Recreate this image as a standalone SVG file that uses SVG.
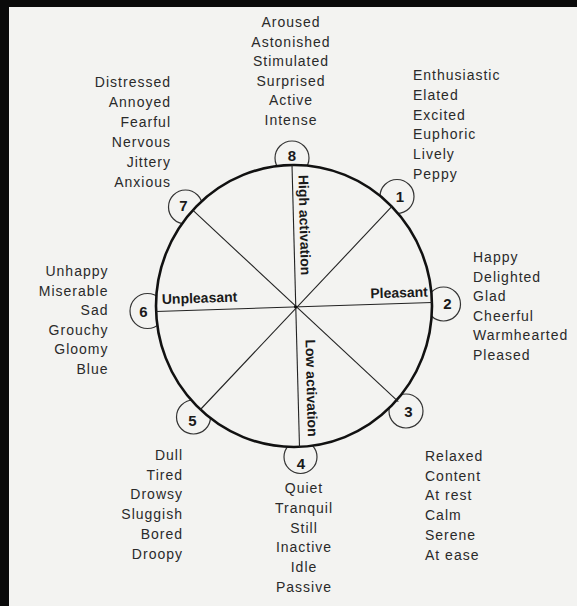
<svg xmlns="http://www.w3.org/2000/svg" width="577" height="606" viewBox="0 0 577 606">
<defs>
<style>
.bg{fill:#f3f3f1}
.w{font-family:"Liberation Sans",Arial,sans-serif;font-size:14px;fill:#2a2a2a;letter-spacing:1px}
.e{text-anchor:end}
.m{text-anchor:middle}
.num{font-family:"Liberation Sans",Arial,sans-serif;font-size:15px;font-weight:bold;fill:#1a1a1a;text-anchor:middle}
.lab{font-family:"Liberation Sans",Arial,sans-serif;font-size:14px;font-weight:bold;fill:#1a1a1a}
.sc{fill:#f3f3f1;stroke:#333;stroke-width:1.2}
.sp{stroke:#222;stroke-width:1.1;fill:none}
</style>
</defs>
<rect class="bg" x="0" y="0" width="577" height="606"/>
<rect x="0" y="0" width="577" height="7" fill="#0a0a0a"/>
<rect x="0" y="0" width="9" height="606" fill="#0a0a0a"/>

<g id="node8">
<circle class="sc" cx="292" cy="158" r="17"/>
<text class="num" x="292" y="160.5">8</text>
<text class="w m" x="291" y="27">Aroused</text>
<text class="w m" x="291" y="46.6">Astonished</text>
<text class="w m" x="291" y="66.2">Stimulated</text>
<text class="w m" x="291" y="85.8">Surprised</text>
<text class="w m" x="291" y="105.4">Active</text>
<text class="w m" x="291" y="125">Intense</text>
</g>
<g id="node7">
<circle class="sc" cx="185.5" cy="207" r="17"/>
<text class="num" x="183.5" y="210.5">7</text>
<text class="w e" x="171" y="87">Distressed</text>
<text class="w e" x="171" y="107">Annoyed</text>
<text class="w e" x="171" y="127">Fearful</text>
<text class="w e" x="171" y="147">Nervous</text>
<text class="w e" x="171" y="167">Jittery</text>
<text class="w e" x="171" y="187">Anxious</text>
</g>
<g id="node1">
<circle class="sc" cx="397" cy="196.5" r="17"/>
<text class="num" x="400" y="202">1</text>
<text class="w" x="413" y="80">Enthusiastic</text>
<text class="w" x="413" y="99.8">Elated</text>
<text class="w" x="413" y="119.6">Excited</text>
<text class="w" x="413" y="139.4">Euphoric</text>
<text class="w" x="413" y="159.2">Lively</text>
<text class="w" x="413" y="179">Peppy</text>
</g>
<g id="node6">
<circle class="sc" cx="147.5" cy="311" r="17.5"/>
<text class="num" x="143.5" y="317">6</text>
<text class="w e" x="108.5" y="276">Unhappy</text>
<text class="w e" x="108.5" y="295.5">Miserable</text>
<text class="w e" x="108.5" y="315">Sad</text>
<text class="w e" x="108.5" y="334.5">Grouchy</text>
<text class="w e" x="108.5" y="354">Gloomy</text>
<text class="w e" x="108.5" y="373.5">Blue</text>
</g>
<g id="node2">
<circle class="sc" cx="443.5" cy="304" r="17"/>
<text class="num" x="447.5" y="308.5">2</text>
<text class="w" x="473" y="262">Happy</text>
<text class="w" x="473" y="281.5">Delighted</text>
<text class="w" x="473" y="301">Glad</text>
<text class="w" x="473" y="320.5">Cheerful</text>
<text class="w" x="473" y="340">Warmhearted</text>
<text class="w" x="473" y="359.5">Pleased</text>
</g>
<g id="node5">
<circle class="sc" cx="193.5" cy="417" r="17"/>
<text class="num" x="192.5" y="426">5</text>
<text class="w e" x="183" y="460">Dull</text>
<text class="w e" x="183" y="479.7">Tired</text>
<text class="w e" x="183" y="499.4">Drowsy</text>
<text class="w e" x="183" y="519.1">Sluggish</text>
<text class="w e" x="183" y="538.8">Bored</text>
<text class="w e" x="183" y="558.5">Droopy</text>
</g>
<g id="node3">
<circle class="sc" cx="406" cy="411" r="17"/>
<text class="num" x="408.5" y="417">3</text>
<text class="w" x="425" y="461">Relaxed</text>
<text class="w" x="425" y="480.7">Content</text>
<text class="w" x="425" y="500.4">At rest</text>
<text class="w" x="425" y="520.1">Calm</text>
<text class="w" x="425" y="539.8">Serene</text>
<text class="w" x="425" y="559.5">At ease</text>
</g>
<g id="node4">
<circle class="sc" cx="300.5" cy="457" r="16.5"/>
<text class="num" x="301" y="468.5">4</text>
<text class="w m" x="304" y="493">Quiet</text>
<text class="w m" x="304" y="512.8">Tranquil</text>
<text class="w m" x="304" y="532.6">Still</text>
<text class="w m" x="304" y="552.4">Inactive</text>
<text class="w m" x="304" y="572.2">Idle</text>
<text class="w m" x="304" y="592">Passive</text>
</g>

<ellipse cx="294" cy="306" rx="138" ry="141" fill="#f3f3f1" stroke="#111" stroke-width="2.6"/>

<g id="connectors">
<line class="sp" x1="292" y1="165" x2="299.5" y2="447"/>
<line class="sp" x1="156" y1="311.5" x2="432" y2="302.5"/>
<line class="sp" x1="193.3" y1="210.7" x2="398.3" y2="401.7"/>
<line class="sp" x1="391.7" y1="206.7" x2="200" y2="410"/>
<circle cx="295.5" cy="306.8" r="1.6" fill="#111"/>
</g>

<g id="axis-labels">
<text class="lab" x="162" y="304" transform="rotate(-1.8 162 304)">Unpleasant</text>
<text class="lab" x="428" y="296.5" text-anchor="end" transform="rotate(-1.8 428 296.5)">Pleasant</text>
<text class="lab" transform="translate(298.5 175) rotate(88.6)">High activation</text>
<text class="lab" transform="translate(305.5 339.5) rotate(88.6)">Low activation</text>
</g>
</svg>
